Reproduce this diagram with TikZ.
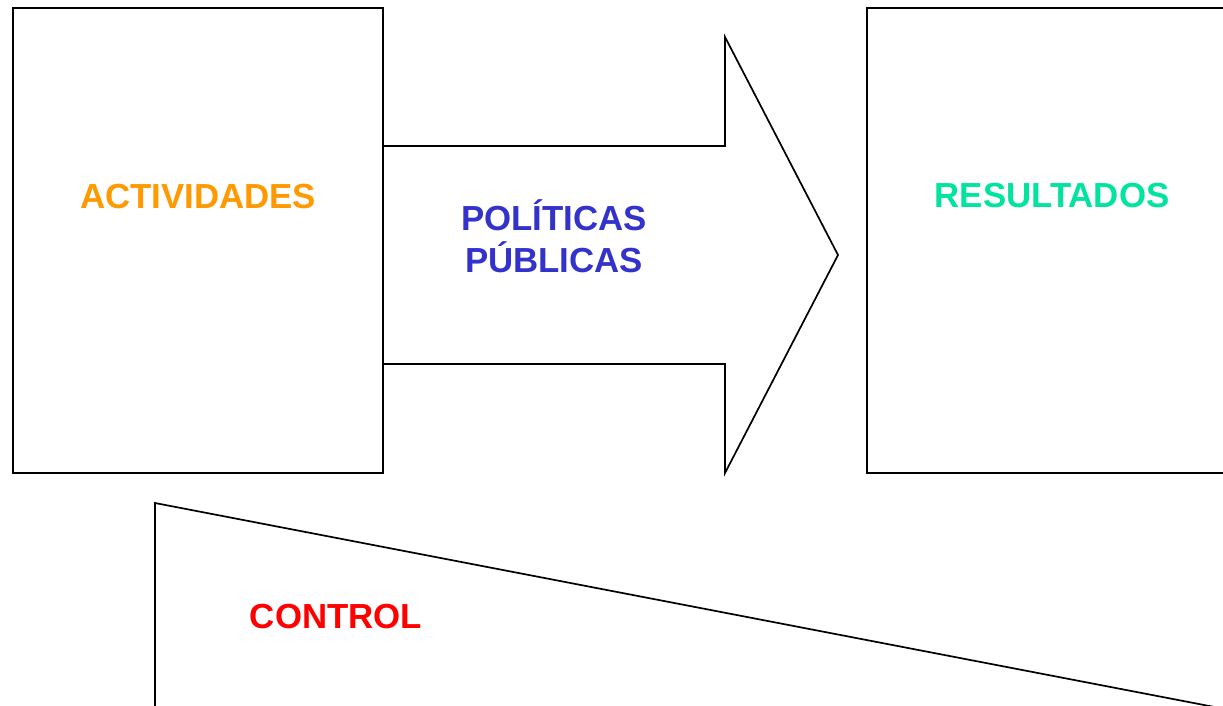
\documentclass[tikz,border=0pt]{standalone}
\usepackage{fontspec}
\setmainfont{Liberation Sans}
\definecolor{corange}{RGB}{255,153,0}
\definecolor{cblue}{RGB}{51,51,204}
\definecolor{cgreen}{RGB}{0,228,160}
\definecolor{cred}{RGB}{255,0,0}
\begin{document}
\begin{tikzpicture}[x=1pt,y=-1pt,
  shape line/.style={draw=black,line width=1.7pt,line join=miter},
  lbl/.style={font=\fontsize{34.8}{40}\selectfont\bfseries,inner sep=0pt,align=center}]
\useasboundingbox (0,0) rectangle (1223,705);
\clip (0,0) rectangle (1223,705);
\fill[white] (0,0) rectangle (1223,705);
% left box
\draw[shape line] (13,8) rectangle (383,473);
% right box
\draw[shape line] (867,8) rectangle (1240,473);
% arrow
\draw[shape line] (383,146) -- (725,146) -- (725,37) -- (838,255) -- (725,473) -- (725,364) -- (383,364);
% triangle
\draw[shape line] (155,720) -- (155,503) -- (1282,720);
% labels
\node[lbl,text=corange] (act) at (198,197) {ACTIVIDADES};
\node[lbl,text=cblue] (pol) at (554,215) {POLÍTICAS};
\node[lbl,text=cblue] (pub) at (554,257) {PÚBLICAS};
\node[lbl,text=cgreen] (res) at (1052,196) {RESULTADOS};
\node[lbl,text=cred] (ctl) at (336,617) {CONTROL};
\end{tikzpicture}
\end{document}
